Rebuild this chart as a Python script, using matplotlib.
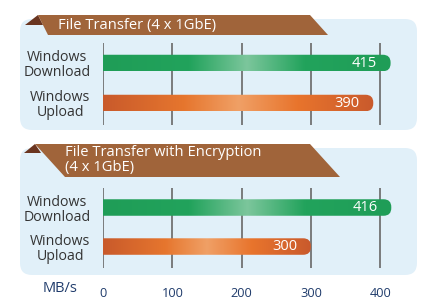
import matplotlib
matplotlib.use("Agg")
import matplotlib.pyplot as plt
import numpy as np
from matplotlib.patches import FancyBboxPatch, Polygon
from matplotlib.colors import LinearSegmentedColormap

plt.rcParams['font.family'] = ['Open Sans', 'DejaVu Sans']

# ---- data ----
panel_titles = ["File Transfer (4 x 1GbE)", "File Transfer with Encryption\n(4 x 1GbE)"]
categories = ["Windows\nDownload", "Windows\nUpload"]
panel1_values = [415, 390]
panel2_values = [416, 300]
x_ticks = [0, 100, 200, 300, 400]
x_unit = "MB/s"

W, H = 435, 308
fig = plt.figure(figsize=(W / 100, H / 100), dpi=100)
fig.patch.set_facecolor("white")

# background axes in pixel coordinates (y down)
bg = fig.add_axes([0, 0, 1, 1])
bg.set_xlim(0, W)
bg.set_ylim(H, 0)
bg.axis("off")

panel_bg = "#e1f0f9"
brown = "#a0643a"
dark_brown = "#6a3520"

# panels
for (y0, y1) in [(19, 130), (148, 275)]:
    bg.add_patch(FancyBboxPatch((20 + 12, y0 + 12), 397 - 24, (y1 - y0) - 24,
                                boxstyle="round,pad=12", fc=panel_bg, ec="none"))

# banners
banners = [
    dict(dark=[(25, 25), (38, 15), (43, 25)],
         main=[(38, 15), (310, 15), (328, 35), (48, 35)],
         text_xy=(58, 25)),
    dict(dark=[(24, 153), (35, 144), (41, 153)],
         main=[(35, 144), (310, 144), (340, 177), (65, 177)],
         text_xy=(65, 160.5)),
]
for b, title in zip(banners, panel_titles):
    bg.add_patch(Polygon(b["dark"], closed=True, fc=dark_brown, ec="none"))
    bg.add_patch(Polygon(b["main"], closed=True, fc=brown, ec="none"))
    bg.text(b["text_xy"][0], b["text_xy"][1], title, color="white",
            fontsize=10.6, fontweight="medium", ha="left", va="center",
            linespacing=1.0)

green_cmap = LinearSegmentedColormap.from_list(
    "g", [(0, "#1f9d57"), (0.3, "#22a35c"), (0.5, "#7cc69c"), (0.7, "#22a35c"), (1, "#1f9d57")])
orange_cmap = LinearSegmentedColormap.from_list(
    "o", [(0, "#c95a2b"), (0.3, "#e6762e"), (0.5, "#f0a066"), (0.72, "#e8742c"), (1, "#c95a2d")])
cmaps = [green_cmap, orange_cmap]

x0_px = 103.0
px_per_unit = 0.693
xmax = 440
ax_w = xmax * px_per_unit
ylo, yhi = 1.55, -0.5


def make_axes(y_top, y_bot, values):
    ax = fig.add_axes([x0_px / W, 1 - y_bot / H, ax_w / W, (y_bot - y_top) / H])
    ax.set_xlim(0, xmax)
    ax.set_ylim(ylo, yhi)
    ax.patch.set_alpha(0)
    for s in ax.spines.values():
        s.set_visible(False)
    for t in x_ticks:
        ax.axvline(t, color="#727272", lw=1.3, zorder=1)
    py_per_unit = (y_bot - y_top) / (ylo - yhi)
    bar_px = 16.5
    bh = bar_px / py_per_unit
    rad_px = bar_px / 2 - 0.5
    r_x = rad_px / px_per_unit
    aspect = (rad_px / py_per_unit) / r_x
    for i, (v, cm) in enumerate(zip(values, cmaps)):
        patch = FancyBboxPatch((-30, i - bh / 2), v + 30, bh,
                               boxstyle="round,pad=0,rounding_size=%f" % r_x,
                               mutation_aspect=aspect,
                               fc="none", ec="none", transform=ax.transData)
        ax.add_patch(patch)
        grad = np.linspace(0, 1, 256).reshape(1, -1)
        im = ax.imshow(grad, cmap=cm, extent=[0, v, i + bh / 2, i - bh / 2],
                       aspect="auto", zorder=3, interpolation="bilinear")
        im.set_clip_path(patch)
        ax.text(v - 20, i + 0.01, str(v), color="white", fontsize=10.5,
                ha="right", va="center", zorder=4)
    ax.set_yticks([0, 1])
    ax.set_yticklabels(categories, fontsize=10.2, color="#333333",
                       multialignment="center", linespacing=1.0)
    ax.tick_params(axis="y", length=0, pad=9)
    ax.set_xlim(0, xmax)
    ax.set_ylim(ylo, yhi)
    return ax


ax1 = make_axes(43, 125, panel1_values)
ax1.set_xticks([])
ax2 = make_axes(188, 268, panel2_values)
ax2.set_xticks(x_ticks)
ax2.set_xticklabels([str(t) for t in x_ticks], fontsize=9.2, color="#1f3b6b")
ax2.tick_params(axis="x", length=0, pad=14)

bg.text(60, 288, x_unit, color="#1f3b6b", fontsize=10.5, ha="center", va="center")

fig.savefig("out.png", dpi=100, facecolor="white")
